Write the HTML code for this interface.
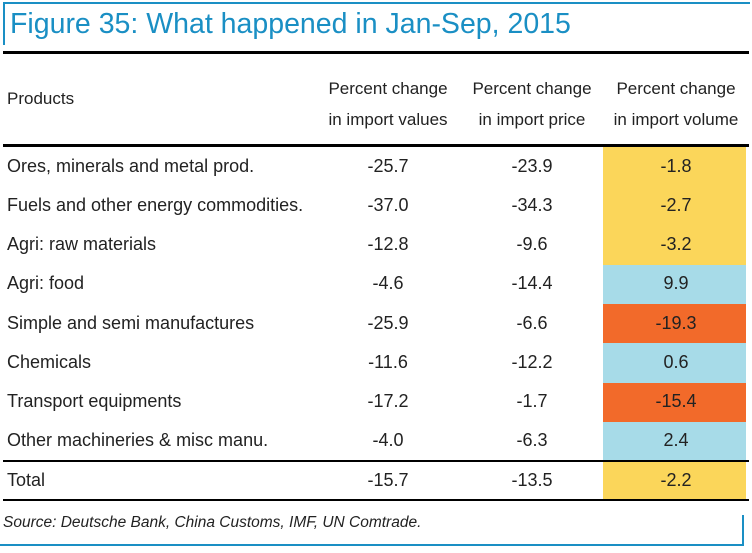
<!DOCTYPE html>
<html><head><meta charset="utf-8"><style>
body{margin:0;width:752px;height:553px;background:#fff;position:relative;overflow:hidden;font-family:"Liberation Sans Narrow","Liberation Sans",sans-serif;color:#222}
.a{position:absolute}
.t{font-size:18px;white-space:nowrap}
.c{text-align:center;width:140px}
.h{font-size:17px}
</style></head><body>
<div class="a" style="left:3px;top:2px;width:747px;height:2px;background:#1a8fc4"></div>
<div class="a" style="left:3px;top:2px;width:2px;height:43px;background:#1a8fc4"></div>
<div class="a" style="left:10px;top:8px;font-family:'Liberation Sans',sans-serif;font-size:28.5px;color:#1a8fc4;white-space:nowrap">Figure 35: What happened in Jan-Sep, 2015</div>
<div class="a" style="left:3px;top:51px;width:746px;height:3px;background:#000"></div>
<div class="a t h" style="left:7px;top:89px">Products</div>
<div class="a t c h" style="left:318px;top:73px;line-height:31px">Percent change<br>in import values</div>
<div class="a t c h" style="left:462px;top:73px;line-height:31px">Percent change<br>in import price</div>
<div class="a t c h" style="left:606px;top:73px;line-height:31px">Percent change<br>in import volume</div>
<div class="a" style="left:3px;top:144px;width:746px;height:3px;background:#000"></div>
<div id="rows"></div>
<div class="a" style="left:3px;top:460px;width:746px;height:2px;background:#000"></div>
<div class="a" style="left:3px;top:499px;width:746px;height:2px;background:#000"></div>
<div class="a" style="left:3px;top:514px;font-size:15.5px;font-style:italic;font-family:'Liberation Sans',sans-serif;white-space:nowrap">Source: Deutsche Bank, China Customs, IMF, UN Comtrade.</div>
<div class="a" style="left:0;top:544px;width:744px;height:2px;background:#1a8fc4"></div>
<div class="a" style="left:742px;top:515px;width:2px;height:31px;background:#1a8fc4"></div>
<script>
const products=["Ores, minerals and metal prod.","Fuels and other energy commodities.","Agri: raw materials","Agri: food","Simple and semi manufactures","Chemicals","Transport equipments","Other machineries & misc manu.","Total"];
const importValues=["-25.7","-37.0","-12.8","-4.6","-25.9","-11.6","-17.2","-4.0","-15.7"];
const importPrice=["-23.9","-34.3","-9.6","-14.4","-6.6","-12.2","-1.7","-6.3","-13.5"];
const importVolume=["-1.8","-2.7","-3.2","9.9","-19.3","0.6","-15.4","2.4","-2.2"];
const volumeColors=["#fbd65a","#fbd65a","#fbd65a","#a7dbe8","#f26a2a","#a7dbe8","#f26a2a","#a7dbe8","#fbd65a"];
const host=document.getElementById('rows');
products.forEach((p,i)=>{
  const top = i<8 ? 147+i*39.25 : 462;
  const h = i<8 ? 39.25 : 37;
  const bg=document.createElement('div');
  bg.className='a';
  
  
  bg.style.cssText=`left:603px;top:${top}px;width:143px;height:${h}px;background:${volumeColors[i]}`;
  host.appendChild(bg);
  const mk=(txt,left,cls,name)=>{
    const d=document.createElement('div');
    d.className='a t '+cls;
    
    
    d.style.left=left+'px';
    d.style.top=(top+h/2-11)+'px';
    d.textContent=txt;host.appendChild(d);
  };
  mk(p,7,'','product-label');
  mk(importValues[i],318,'c','import-value');
  mk(importPrice[i],462,'c','import-price');
  mk(importVolume[i],606,'c','import-volume');
});
</script>
</body></html>
